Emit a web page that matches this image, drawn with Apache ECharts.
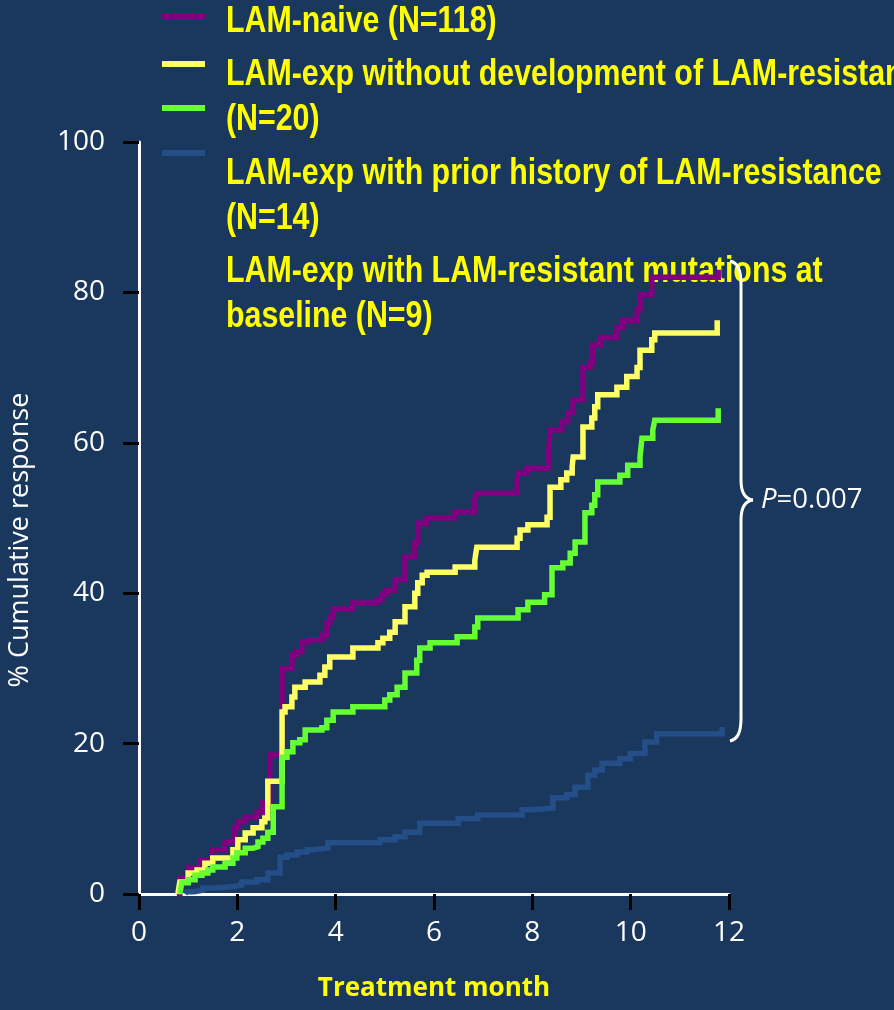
<!DOCTYPE html>
<html>
<head>
<meta charset="utf-8">
<script src="https://cdn.jsdelivr.net/npm/echarts@6/dist/echarts.min.js"></script>
<style>
  html, body { margin: 0; padding: 0; background: #1a375e; }
  #chart { width: 894px; height: 1010px; }
</style>
</head>
<body>
<div id="chart"></div>
<script>
// Cumulative response (%) by treatment month, one step curve per group
const naiveMonths = [0.77, 0.83, 1.00, 1.24, 1.48, 1.75, 1.95, 2.01, 2.16, 2.40, 2.52, 2.66, 2.91, 3.11, 3.21, 3.31, 3.44, 3.72, 3.82, 3.88, 3.95, 4.35, 4.84, 4.94, 5.04, 5.21, 5.41, 5.61, 5.67, 5.86, 6.43, 6.83, 6.87, 7.69, 7.71, 7.89, 8.32, 8.36, 8.60, 8.72, 8.83, 9.03, 9.17, 9.23, 9.38, 9.72, 9.84, 10.13, 10.19, 10.43, 11.78];
const naivePct    = [0, 2.1, 3.5, 4.5, 5.9, 6.9, 8.8, 9.6, 10.2, 10.9, 12.1, 18.5, 30.0, 31.8, 32.2, 33.5, 33.8, 34.4, 36.0, 36.8, 37.9, 38.7, 39.1, 39.9, 40.4, 41.8, 44.8, 46.7, 49.3, 50.0, 50.8, 52.4, 53.3, 55.0, 56.0, 56.6, 57.5, 61.7, 62.8, 64.0, 65.7, 70.0, 70.6, 73.0, 74.0, 75.3, 76.3, 77.7, 79.7, 82.0, 83.0];

const noDevMonths = [0.79, 0.83, 1.00, 1.18, 1.34, 1.50, 1.91, 2.01, 2.16, 2.32, 2.50, 2.56, 2.62, 2.91, 2.97, 3.11, 3.17, 3.38, 3.68, 3.78, 3.88, 4.35, 4.86, 4.96, 5.10, 5.21, 5.41, 5.61, 5.67, 5.76, 5.86, 6.43, 6.83, 6.87, 7.69, 7.75, 7.91, 8.30, 8.36, 8.58, 8.70, 8.81, 8.83, 9.03, 9.21, 9.27, 9.33, 9.72, 9.92, 10.13, 10.19, 10.43, 10.49, 11.76];
const noDevPct    = [0, 1.6, 2.8, 3.2, 4.1, 4.8, 5.9, 7.2, 8.1, 8.8, 9.6, 10.1, 15.0, 24.2, 24.9, 26.2, 27.5, 28.2, 29.1, 30.2, 31.5, 32.7, 33.4, 34.0, 34.8, 36.2, 38.2, 40.0, 41.4, 42.4, 42.8, 43.5, 44.4, 46.1, 47.3, 48.4, 49.1, 50.1, 54.1, 55.1, 56.0, 56.8, 58.1, 62.1, 63.3, 64.8, 66.4, 67.4, 68.8, 70.0, 72.3, 73.7, 74.6, 76.3];

const priorMonths = [0.83, 0.87, 1.00, 1.14, 1.28, 1.40, 1.50, 1.75, 1.91, 1.99, 2.16, 2.32, 2.42, 2.52, 2.62, 2.73, 2.91, 3.01, 3.13, 3.27, 3.38, 3.72, 3.82, 3.95, 4.35, 5.00, 5.10, 5.25, 5.41, 5.65, 5.71, 5.92, 6.47, 6.83, 6.89, 7.71, 7.91, 8.25, 8.40, 8.62, 8.77, 8.87, 9.07, 9.21, 9.27, 9.33, 9.78, 9.94, 10.19, 10.23, 10.45, 10.49, 11.78];
const priorPct    = [0, 1.5, 1.9, 2.5, 2.8, 3.2, 3.6, 4.1, 4.8, 5.5, 6.1, 6.3, 6.9, 7.4, 8.2, 11.6, 18.2, 18.9, 20.1, 20.5, 21.8, 22.1, 23.1, 24.2, 24.9, 25.8, 26.5, 27.5, 29.4, 31.1, 32.7, 33.4, 34.2, 35.5, 36.7, 37.8, 38.8, 39.8, 43.4, 44.0, 45.3, 46.8, 50.7, 51.7, 53.1, 54.8, 55.7, 57.0, 58.1, 60.6, 61.7, 63.0, 64.6];

const baselineMonths = [0.94, 0.97, 1.12, 1.30, 1.55, 1.95, 2.09, 2.40, 2.62, 2.87, 3.01, 3.21, 3.42, 3.54, 3.84, 4.90, 5.21, 5.41, 5.71, 6.49, 6.89, 7.79, 7.99, 8.42, 8.70, 8.87, 9.13, 9.27, 9.42, 9.78, 9.99, 10.29, 10.53, 11.86];
const baselinePct    = [0, 0.3, 0.5, 0.8, 1.0, 1.2, 1.6, 1.9, 2.8, 4.9, 5.2, 5.6, 5.9, 6.1, 6.8, 7.2, 7.6, 8.2, 9.4, 10.0, 10.5, 11.2, 11.4, 12.8, 13.2, 14.2, 15.8, 16.5, 17.4, 18.0, 18.7, 20.2, 21.3, 22.2];

const groupNames = [
  'LAM-naive (N=118)',
  'LAM-exp without development of LAM-resistance (N=20)',
  'LAM-exp with prior history of LAM-resistance (N=14)',
  'LAM-exp with LAM-resistant mutations at baseline (N=9)'
];
// legend text as it wraps on the slide
const legendLines = [
  'LAM-naive (N=118)',
  'LAM-exp without development of LAM-resistance',
  '(N=20)',
  'LAM-exp with prior history of LAM-resistance',
  '(N=14)',
  'LAM-exp with LAM-resistant mutations at',
  'baseline (N=9)'
];
const xTicks = [0, 2, 4, 6, 8, 10, 12];
const yTicks = [0, 20, 40, 60, 80, 100];
const pText = '0.007';

const colors = ['#800080', '#ffff66', '#66ff33', '#234e87'];
const monthSets = [naiveMonths, noDevMonths, priorMonths, baselineMonths];
const pctSets = [naivePct, noDevPct, priorPct, baselinePct];

const chart = echarts.init(document.getElementById('chart'));

const series = groupNames.map((name, i) => ({
  name: name,
  type: 'line',
  step: 'end',
  showSymbol: false,
  symbol: 'none',
  z: 3,
  lineStyle: { color: colors[i], width: 5.5, join: 'miter' },
  data: monthSets[i].map((m, k) => [m, pctSets[i][k]])
}));

// legend swatches and wrapped legend labels
const swatchY = [17, 64, 108, 153];
const lineBaselines = [35, 88, 133, 187, 232, 285, 330];
const graphics = [];
swatchY.forEach((y, i) => {
  graphics.push({
    type: 'rect', z: 1,
    shape: { x: 162, y: y - 3, width: 43, height: 6 },
    style: { fill: colors[i] }
  });
});
legendLines.forEach((t, i) => {
  graphics.push({
    type: 'text', x: 226, y: lineBaselines[i] - 13, z: 1,
    scaleX: 0.82,
    style: {
      text: t, fill: '#ffff00',
      font: 'bold 37px "Liberation Sans", Arial, sans-serif',
      textAlign: 'left', textVerticalAlign: 'middle'
    }
  });
});
// y axis title
graphics.push({
  type: 'text', x: 20, y: 540, rotation: Math.PI / 2, z: 1,
  style: {
    text: '% Cumulative response', fill: '#ffffff',
    font: '27px "Open Sans", sans-serif',
    textAlign: 'center', textVerticalAlign: 'middle'
  }
});
// brace spanning the four curves with the test p-value
const braceStyle = { stroke: '#ffffff', lineWidth: 3, fill: null };
const braceParts = [
  { type: 'bezierCurve', shape: { x1: 730, y1: 261, cpx1: 738, cpy1: 263, cpx2: 741, cpy2: 270, x2: 741, y2: 285 } },
  { type: 'line', shape: { x1: 741, y1: 285, x2: 741, y2: 480 } },
  { type: 'bezierCurve', shape: { x1: 741, y1: 480, cpx1: 741, cpy1: 493, cpx2: 745, cpy2: 499, x2: 753, y2: 500 } },
  { type: 'bezierCurve', shape: { x1: 753, y1: 500, cpx1: 745, cpy1: 501, cpx2: 741, cpy2: 507, x2: 741, y2: 520 } },
  { type: 'line', shape: { x1: 741, y1: 520, x2: 741, y2: 718 } },
  { type: 'bezierCurve', shape: { x1: 741, y1: 718, cpx1: 741, cpy1: 732, cpx2: 738, cpy2: 739, x2: 730, y2: 741 } }
];
braceParts.forEach(p => {
  p.z = 10;
  p.style = braceStyle;
  graphics.push(p);
});
graphics.push({
  type: 'text', x: 761, y: 500, z: 10,
  style: {
    text: '{p|P}{v|=' + pText + '}',
    textAlign: 'left', textVerticalAlign: 'middle',
    rich: {
      p: { fill: '#ffffff', fontFamily: 'Open Sans', fontStyle: 'italic', fontSize: 27.5 },
      v: { fill: '#ffffff', fontFamily: 'Open Sans', fontSize: 27.5 }
    }
  }
});

chart.setOption({
  backgroundColor: '#1a375e',
  animation: false,
  grid: { left: 139, right: 165, top: 142, bottom: 116, containLabel: false },
  xAxis: {
    type: 'value', min: xTicks[0], max: xTicks[xTicks.length - 1], interval: 2,
    name: 'Treatment month', nameLocation: 'middle', nameGap: 82,
    nameTextStyle: { color: '#ffff00', fontFamily: 'Open Sans', fontWeight: 'bold', fontSize: 26 },
    axisLine: { show: true, onZero: false, lineStyle: { color: '#ffffff', width: 3 } },
    axisTick: { show: true, length: 16, lineStyle: { color: '#000000', width: 3 } },
    axisLabel: { color: '#ffffff', fontFamily: 'Open Sans', fontSize: 28, margin: 25 },
    splitLine: { show: false }
  },
  yAxis: {
    type: 'value', min: yTicks[0], max: yTicks[yTicks.length - 1], interval: 20,
    axisLine: { show: true, onZero: false, lineStyle: { color: '#ffffff', width: 3 } },
    axisTick: { show: true, length: 16, lineStyle: { color: '#000000', width: 3 } },
    axisLabel: { color: '#ffffff', fontFamily: 'Open Sans', fontSize: 28, margin: 34 },
    splitLine: { show: false }
  },
  series: series,
  graphic: graphics
});
</script>
</body>
</html>
